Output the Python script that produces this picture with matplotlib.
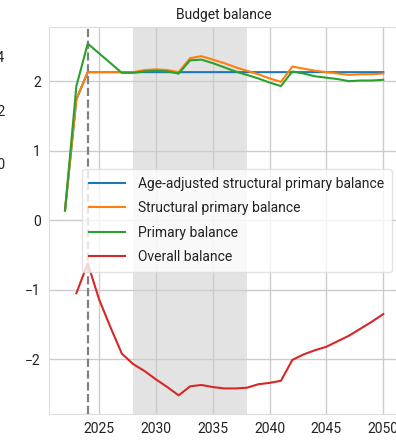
import matplotlib.pyplot as plt

# データ
years = list(range(2022, 2051))
age_adj = [0.14, 1.74] + [2.13] * 27
structural = [0.14, 1.74, 2.13, 2.13, 2.13, 2.13, 2.13, 2.16, 2.17, 2.16, 2.13,
              2.33, 2.36, 2.31, 2.26, 2.20, 2.15, 2.10, 2.04, 1.99,
              2.21, 2.18, 2.15, 2.13, 2.11, 2.09, 2.10, 2.10, 2.11]
primary = [0.14, 1.93, 2.54, 2.40, 2.26, 2.12, 2.12, 2.14, 2.15, 2.14, 2.11,
           2.30, 2.31, 2.26, 2.20, 2.14, 2.09, 2.04, 1.98, 1.93,
           2.14, 2.11, 2.07, 2.05, 2.03, 2.00, 2.01, 2.01, 2.02]
overall = [None, -1.05, -0.62, -1.14, -1.54, -1.92, -2.07, -2.17, -2.29, -2.40, -2.52,
           -2.39, -2.37, -2.40, -2.42, -2.42, -2.41, -2.36, -2.34, -2.31,
           -2.01, -1.93, -1.87, -1.82, -1.74, -1.66, -1.56, -1.46, -1.35]
labels = ['Age-adjusted structural primary balance', 'Structural primary balance',
          'Primary balance', 'Overall balance']
colors = ['#1f77b4', '#ff7f0e', '#2ca02c', '#d62728']

plt.rcParams['font.family'] = ['Roboto', 'DejaVu Sans']

fig = plt.figure(figsize=(3.96, 4.42), dpi=100)
ax = fig.add_axes([0.124, 0.063, 0.884, 0.876])
ax.set_axisbelow(True)

ax.axvspan(2028, 2038, color='#e3e3e3', zorder=0, lw=0)
ax.axvline(2024, color='gray', linestyle='--', lw=1.6, zorder=1)

ov_years = [y for y, v in zip(years, overall) if v is not None]
ov_vals = [v for v in overall if v is not None]
for vals, yrs, lab, c in zip([age_adj, structural, primary, ov_vals],
                             [years, years, years, ov_years], labels, colors):
    ax.plot(yrs, vals, color=c, lw=1.5, label=lab, zorder=2)

ax.set_xlim(2020.6, 2051.4)
ax.set_ylim(-2.79, 2.78)
ax.set_xticks([2025, 2030, 2035, 2040, 2045, 2050])
ax.set_yticks([-2, -1, 0, 1, 2])
ax.set_yticklabels(['\u22122', '\u22121', '0', '1', '2'])
ax.grid(True, color='#cccccc', lw=1)
for s in ax.spines.values():
    s.set_color('#dddddd')
ax.tick_params(length=0, labelsize=10, colors='#222222', pad=6)
ax.set_title('Budget balance', fontsize=10, color='#222222', pad=6)

leg = ax.legend(loc='center right', fontsize=10, frameon=True, handlelength=2.6,
                handletextpad=0.9, labelspacing=0.75, borderpad=0.55,
                borderaxespad=0.55, labelcolor='#222222')
leg.get_frame().set_edgecolor('#dddddd')

# 左側の隣のグラフの目盛り(切れている)
for yy, t in [(58, '0.4'), (112, '0.2'), (165, '0.0')]:
    fig.text(5 / 396, 1 - yy / 442, t, ha='right', va='center', fontsize=10, color='#222222')

plt.savefig('out.png', dpi=100)
